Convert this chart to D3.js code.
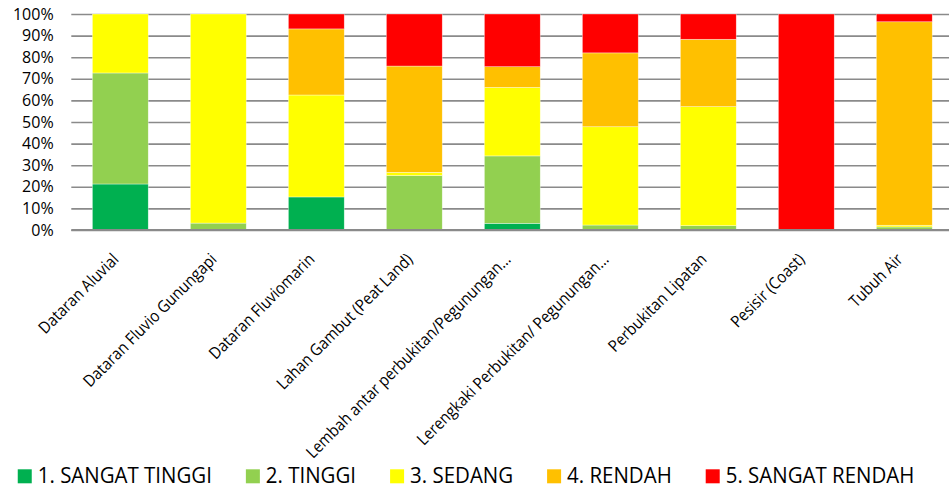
<!DOCTYPE html>
<html>
<head>
<meta charset="utf-8">
<script src="https://cdn.jsdelivr.net/npm/d3@7"></script>
<style>
  html, body { margin: 0; padding: 0; background: #fff; }
  svg { display: block; }
  .axis-label { font-family: "Open Sans", sans-serif; font-size: 16px; fill: #000; }
  .cat-label { font-family: "Open Sans", sans-serif; font-size: 16.5px; fill: #000; }
  .legend-label { font-family: "Open Sans", sans-serif; font-size: 22px; fill: #000; }
</style>
</head>
<body>
<svg id="chart" width="949" height="490"></svg>
<script>
// Landform units (satuan bentuk lahan)
const categories = [
  "Dataran Aluvial",
  "Dataran Fluvio Gunungapi",
  "Dataran Fluviomarin",
  "Lahan Gambut (Peat Land)",
  "Lembah antar perbukitan/Pegunungan...",
  "Lerengkaki Perbukitan/ Pegunungan...",
  "Perbukitan Lipatan",
  "Pesisir (Coast)",
  "Tubuh Air"
];

// Share of each class per landform unit (%)
const sangatTinggi = [21.3, 0, 15.3, 0, 3.1, 0, 0, 0, 0];
const tinggi       = [51.4, 3.2, 0, 25.2, 31.2, 2.3, 2.0, 0, 1.4];
const sedang       = [27.3, 96.8, 47.2, 1.5, 31.7, 45.5, 55.1, 0, 0.8];
const rendah       = [0, 0, 30.6, 49.2, 9.6, 34.2, 31.2, 0, 94.2];
const sangatRendah = [0, 0, 6.9, 24.1, 24.4, 18.0, 11.7, 100, 3.6];

const seriesNames = ["1. SANGAT TINGGI", "2. TINGGI", "3. SEDANG", "4. RENDAH", "5. SANGAT RENDAH"];
const seriesColors = ["#00B050", "#92D050", "#FFFF00", "#FFC000", "#FF0000"];
const yTickValues = [0, 0.1, 0.2, 0.3, 0.4, 0.5, 0.6, 0.7, 0.8, 0.9, 1.0];

const seriesValues = [sangatTinggi, tinggi, sedang, rendah, sangatRendah];
const rows = categories.map((c, i) => {
  const r = { category: c };
  seriesNames.forEach((s, k) => { r[s] = seriesValues[k][i]; });
  return r;
});

const svg = d3.select("#chart");
const W = 949;
const plot = { left: 71.3, right: 953.3, top: 14, bottom: 230 };

const x = d3.scaleBand()
  .domain(categories)
  .range([plot.left, plot.right])
  .paddingInner(0.43)
  .paddingOuter(0.215);

const y = d3.scaleLinear().domain([0, 1]).range([plot.bottom, plot.top]);

const color = d3.scaleOrdinal().domain(seriesNames).range(seriesColors);

// Gridlines and percentage labels
const yAxis = d3.axisLeft(y)
  .tickValues(yTickValues)
  .tickFormat(d3.format(".0%"))
  .tickSize(-(W - plot.left))
  .tickPadding(17.7);

const gy = svg.append("g")
  .attr("transform", `translate(${plot.left},0)`)
  .call(yAxis);
gy.select(".domain").remove();
gy.selectAll(".tick line").attr("stroke", "#8a8a8a").attr("stroke-width", 1.6);
gy.selectAll(".tick text").attr("class", "axis-label").attr("fill", "#000");

// 100% stacked bars
const stacked = d3.stack()
  .keys(seriesNames)
  .offset(d3.stackOffsetExpand)(rows);

svg.append("g")
  .selectAll("g")
  .data(stacked)
  .join("g")
  .attr("fill", d => color(d.key))
  .selectAll("rect")
  .data(d => d.filter(p => p[1] - p[0] > 0))
  .join("rect")
  .attr("x", d => x(d.data.category))
  .attr("width", x.bandwidth())
  .attr("y", d => y(d[1]))
  .attr("height", d => y(d[0]) - y(d[1]))
  .attr("stroke", "#ffffff")
  .attr("stroke-opacity", 0.6)
  .attr("stroke-width", 0.6);

// Category axis line
svg.append("line")
  .attr("x1", plot.left).attr("x2", W)
  .attr("y1", y(0)).attr("y2", y(0))
  .attr("stroke", "#8a8a8a").attr("stroke-width", 2);

// Rotated category labels, slightly condensed along the reading direction
const xAxis = d3.axisBottom(x).tickSize(0).tickPadding(0);
const gx = svg.append("g")
  .attr("transform", `translate(0,${plot.bottom})`)
  .call(xAxis);
gx.select(".domain").remove();
gx.selectAll(".tick text")
  .attr("class", "cat-label")
  .attr("fill", "#000")
  .attr("text-anchor", "end")
  .attr("y", 0)
  .attr("dy", "0.72em")
  .attr("transform", "translate(-9,22) rotate(-45) scale(0.9,1)");

// Legend (labels drawn slightly condensed)
const legend = svg.append("g").attr("class", "legend");
const items = legend.selectAll("g")
  .data(seriesNames)
  .join("g");
items.append("rect")
  .attr("width", 14).attr("height", 14)
  .attr("y", -14)
  .attr("fill", d => color(d));
const labelScale = 0.93;
items.append("text")
  .attr("class", "legend-label")
  .attr("transform", `translate(20,0) scale(${labelScale},1)`)
  .text(d => d);

const gap = 34;
let cursor = 0;
items.each(function () {
  const g = d3.select(this);
  g.attr("transform", `translate(${cursor},483.3)`);
  cursor += 20 + g.select("text").node().getComputedTextLength() * labelScale + gap;
});
const legendWidth = cursor - gap;
legend.attr("transform", `translate(${466 - legendWidth / 2},0)`);
</script>
</body>
</html>
